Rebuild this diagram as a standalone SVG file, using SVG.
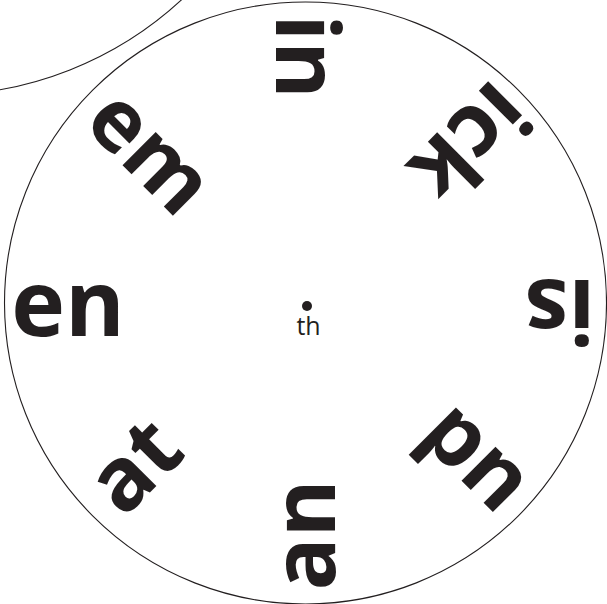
<svg xmlns="http://www.w3.org/2000/svg" width="607" height="604" viewBox="0 0 607 604">
<style>
.wheel{fill:none;stroke:#231f20;stroke-width:1.1}
.w{font-family:"Open Sans","Liberation Sans",sans-serif;font-weight:700;fill:#231f20;text-anchor:middle}
.c{font-family:"Open Sans","Liberation Sans",sans-serif;font-weight:400;fill:#231f20;text-anchor:middle}
</style>
<rect width="607" height="604" fill="#ffffff"/>
<g id="wheels">
<circle class="wheel" cx="-62.6" cy="-264.8" r="360"/>
<circle class="wheel" cx="305.5" cy="303" r="301"/>
</g>
<g id="connectors"/>
<g id="center">
<circle cx="307" cy="306" r="5" fill="#231f20"/>
<text class="c" x="308.5" y="335" font-size="25">th</text>
</g>
<g id="word-in"><text class="w" font-size="88" dy="0.27em" transform="translate(300,56.5) rotate(90)">in</text></g>
<g id="word-ick"><text class="w" font-size="88" dy="0.27em" transform="translate(465,138) rotate(135)">ick</text></g>
<g id="word-is"><text class="w" font-size="88" dy="0.27em" transform="translate(560,303.5) rotate(180)">is</text></g>
<g id="word-ud"><text class="w" font-size="88" dy="0.27em" transform="translate(474.5,459.5) rotate(-135)">ud</text></g>
<g id="word-an"><text class="w" font-size="88" dy="0.27em" transform="translate(311,535) rotate(-90)">an</text></g>
<g id="word-at"><text class="w" font-size="88" dy="0.27em" transform="translate(139,470) rotate(-45)">at</text></g>
<g id="word-en"><text class="w" font-size="91" dy="0.27em" transform="translate(68,311.5)">en</text></g>
<g id="word-em"><text class="w" font-size="86" dy="0.27em" transform="translate(146,156) rotate(45)">em</text></g>
</svg>
